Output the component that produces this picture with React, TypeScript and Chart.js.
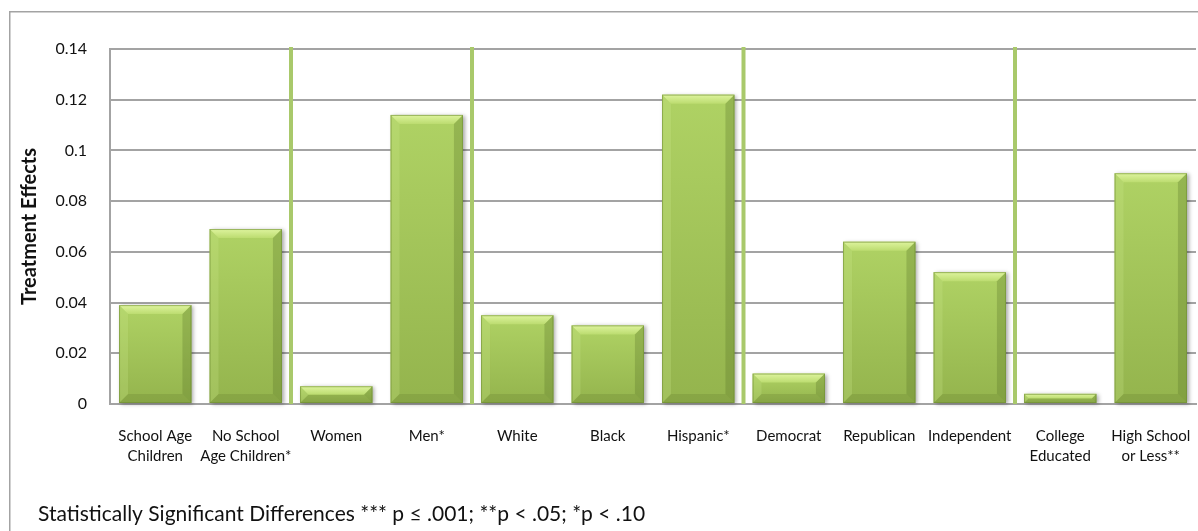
import React, { useEffect, useRef } from "react";
import { Chart, registerables } from "chart.js";

Chart.register(...registerables);

const categories: string[][] = [
  ["School Age", "Children"],
  ["No School", "Age Children*"],
  ["Women"],
  ["Men*"],
  ["White"],
  ["Black"],
  ["Hispanic*"],
  ["Democrat"],
  ["Republican"],
  ["Independent"],
  ["College", "Educated"],
  ["High School", "or Less**"],
];

const treatmentEffects: number[] = [
  0.039, 0.069, 0.007, 0.114, 0.035, 0.031, 0.122, 0.012, 0.064, 0.052, 0.004, 0.091,
];

// group separators drawn after these category indices
const separatorsAfter: number[] = [1, 3, 6, 9];

const yTickLabels: string[] = ["0", "0.02", "0.04", "0.06", "0.08", "0.1", "0.12", "0.14"];

const axisTitle = "Treatment Effects";
const footnote = "Statistically Significant Differences *** p \u2264 .001; **p < .05; *p < .10";

const FONT = "Lato, 'Open Sans', 'Noto Sans', sans-serif";

const decorPlugin = {
  id: "decor",
  beforeDraw(chart: any) {
    const ctx = chart.ctx;
    ctx.save();
    ctx.strokeStyle = "#a3a3a3";
    ctx.lineWidth = 1.5;
    ctx.strokeRect(9.75, 11.75, chart.width + 20, chart.height + 20);
    ctx.restore();
  },
  beforeDatasetsDraw(chart: any) {
    const ctx = chart.ctx;
    const x = chart.scales.x;
    const area = chart.chartArea;
    ctx.save();
    ctx.strokeStyle = "#a9c96b";
    ctx.lineWidth = 4;
    separatorsAfter.forEach((i) => {
      const px = x.getPixelForValue(i + 0.5);
      ctx.beginPath();
      ctx.moveTo(px, area.top - 2);
      ctx.lineTo(px, area.bottom);
      ctx.stroke();
    });
    ctx.restore();
  },
  afterDatasetsDraw(chart: any) {
    const ctx = chart.ctx;
    const meta = chart.getDatasetMeta(0);
    meta.data.forEach((bar: any) => {
      const p = bar.getProps(["x", "y", "base", "width"], true);
      const l = p.x - p.width / 2;
      const r = p.x + p.width / 2;
      const t = Math.min(p.y, p.base);
      const b = Math.max(p.y, p.base);
      const h = b - t;
      const s = Math.min(9, h / 2);
      ctx.save();
      ctx.shadowColor = "rgba(0,0,0,0.35)";
      ctx.shadowBlur = 4;
      ctx.shadowOffsetX = 2;
      ctx.shadowOffsetY = 1;
      const g = ctx.createLinearGradient(0, t, 0, b);
      g.addColorStop(0, "#afd264");
      g.addColorStop(1, "#94b44d");
      ctx.fillStyle = g;
      ctx.fillRect(l, t, r - l, h);
      ctx.shadowColor = "transparent";
      const gt = ctx.createLinearGradient(0, t, 0, t + s);
      gt.addColorStop(0, "#def49e");
      gt.addColorStop(1, "#bcdc70");
      ctx.fillStyle = gt;
      ctx.beginPath();
      ctx.moveTo(l, t);
      ctx.lineTo(r, t);
      ctx.lineTo(r - s, t + s);
      ctx.lineTo(l + s, t + s);
      ctx.closePath();
      ctx.fill();
      ctx.fillStyle = "rgba(205,232,140,0.25)";
      ctx.beginPath();
      ctx.moveTo(l, t);
      ctx.lineTo(l + s, t + s);
      ctx.lineTo(l + s, b - s);
      ctx.lineTo(l, b);
      ctx.closePath();
      ctx.fill();
      ctx.fillStyle = "rgba(90,115,40,0.3)";
      ctx.beginPath();
      ctx.moveTo(r, t);
      ctx.lineTo(r - s, t + s);
      ctx.lineTo(r - s, b - s);
      ctx.lineTo(r, b);
      ctx.closePath();
      ctx.fill();
      ctx.fillStyle = "rgba(90,115,40,0.22)";
      ctx.beginPath();
      ctx.moveTo(l, b);
      ctx.lineTo(l + s, b - s);
      ctx.lineTo(r - s, b - s);
      ctx.lineTo(r, b);
      ctx.closePath();
      ctx.fill();
      ctx.strokeStyle = "rgba(110,140,50,0.6)";
      ctx.lineWidth = 1;
      ctx.strokeRect(l + 0.5, t + 0.5, r - l - 1, h - 1);
      ctx.restore();
    });
  },
  afterDraw(chart: any) {
    const ctx = chart.ctx;
    ctx.save();
    ctx.fillStyle = "#111";
    ctx.font = `21px ${FONT}`;
    ctx.textBaseline = "middle";
    ctx.textAlign = "left";
    ctx.fillText(footnote, 38, 514);
    ctx.restore();
  },
};

export default function App() {
  const canvasRef = useRef<HTMLCanvasElement | null>(null);

  useEffect(() => {
    document.body.style.margin = "0";
    const canvas = canvasRef.current;
    if (!canvas) return;
    const chart = new Chart(canvas, {
      type: "bar",
      data: {
        labels: categories,
        datasets: [
          {
            label: axisTitle,
            data: treatmentEffects,
            backgroundColor: "rgba(0,0,0,0)",
            borderWidth: 0,
            barPercentage: 0.8,
            categoryPercentage: 1,
          },
        ],
      },
      options: {
        animation: false,
        responsive: false,
        maintainAspectRatio: false,
        layout: { padding: { left: 0, top: 49, right: 2, bottom: 0 } },
        plugins: {
          legend: { display: false },
          tooltip: { enabled: false },
        },
        scales: {
          x: {
            grid: { display: false, drawTicks: false },
            border: { display: true, color: "#a3a3a3", width: 2 },
            ticks: {
              color: "#111",
              font: { family: FONT, size: 15, lineHeight: 1.33 },
              padding: 22,
              maxRotation: 0,
              autoSkip: false,
            },
            afterFit: (s: any) => {
              s.height = 127;
              s.paddingLeft = 0;
              s.paddingRight = 0;
            },
          },
          y: {
            min: 0,
            max: 0.14,
            ticks: {
              stepSize: 0.02,
              color: "#111",
              font: { family: FONT, size: 16 },
              padding: 23,
              callback: (_v: any, i: number) => yTickLabels[i],
            },
            grid: { color: "#a3a3a3", lineWidth: 2, drawTicks: false },
            border: { display: true, color: "#a3a3a3", width: 2 },
            title: {
              display: true,
              text: axisTitle,
              color: "#111",
              font: { family: FONT, size: 20, weight: "bold" },
              padding: { top: 18, bottom: 0 },
            },
            afterFit: (s: any) => {
              s.width = 110;
              s.paddingTop = 0;
              s.paddingBottom = 0;
            },
          },
        },
      },
      plugins: [decorPlugin],
    });
    return () => chart.destroy();
  }, []);

  return (
    <div style={{ position: "absolute", left: 0, top: 0, width: 1198, height: 531 }}>
      <canvas ref={canvasRef} width={1198} height={531} style={{ width: 1198, height: 531 }} />
    </div>
  );
}
